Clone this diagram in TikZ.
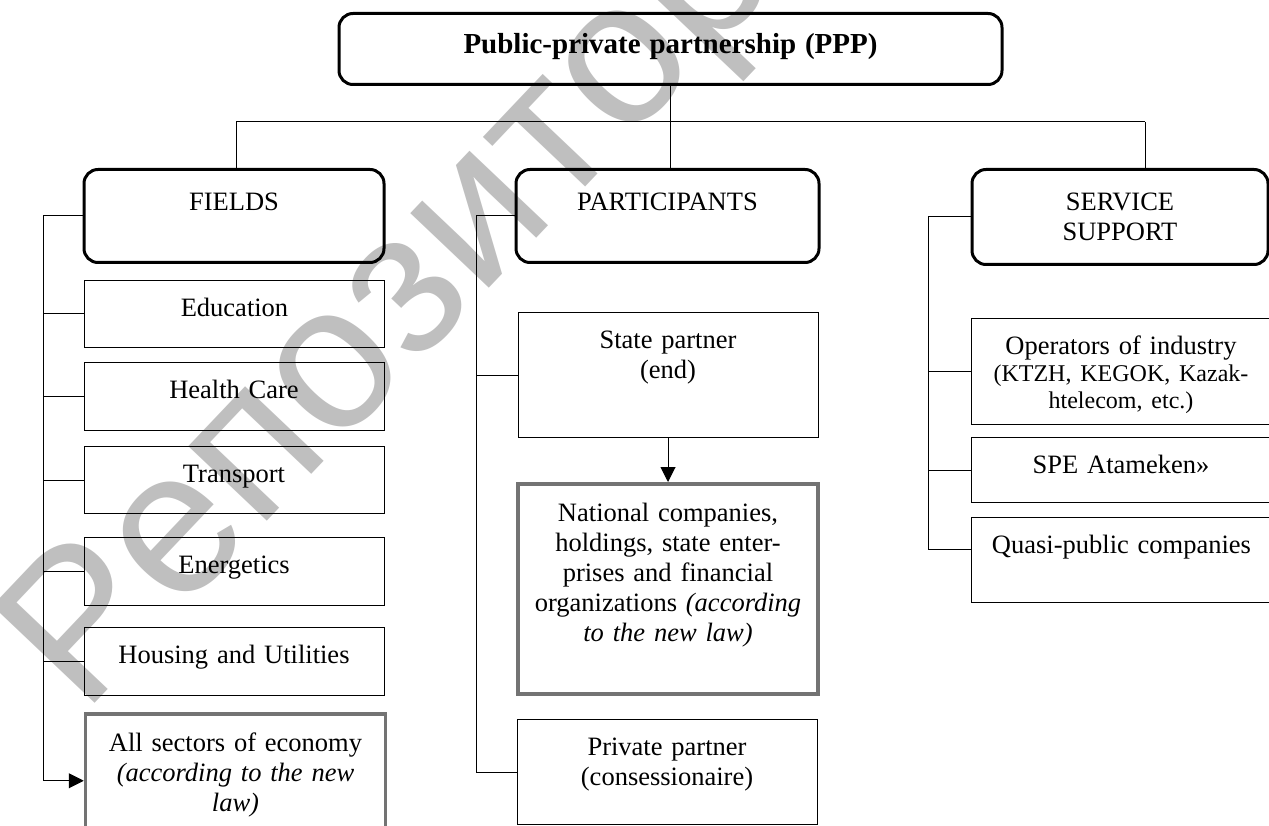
\documentclass[tikz,border=0pt]{standalone}
\usepackage{fontspec}
\setmainfont{Liberation Serif}
\newfontfamily\wmfont{Liberation Sans}
\usetikzlibrary{arrows.meta}

\tikzset{
  headbox/.style={draw, line width=3pt, rounded corners=14pt, anchor=north,
    inner sep=0pt, align=center, text height=41pt},
  itembox/.style={draw, line width=1pt, anchor=north, inner sep=0pt,
    align=center, text width=300pt, text height=36pt, text depth=#1},
  lawbox/.style={draw=black!55, line width=3.5pt, anchor=north, inner sep=0pt,
    align=center, text width=300pt, text height=38pt, text depth=#1},
  wmletter/.style={rotate=46.5, inner sep=0pt, text=black!25,
    font=\wmfont\fontsize{205}{205}\selectfont},
  arr/.style={-{Triangle[length=15pt,width=15pt]}}
}

\begin{document}
\begin{tikzpicture}[x=1pt, y=-1pt, line width=1pt, font=\fontsize{26.5}{30}\selectfont]
\useasboundingbox (0,0) rectangle (1269,826);

% watermark, letter by letter from the first "o"
\node[wmletter] (w0) at (335,372) {о};
\node[wmletter, anchor=base east] (wp) at (w0.base west) {п};
\node[wmletter, anchor=base east] (we) at (wp.base west) {е};
\node[wmletter, anchor=base east] (wr) at (we.base west) {Р};
\foreach \l [count=\i, remember=\i as \j (initially 0)] in {з,и,т,о,р,и,й}
  \node[wmletter, anchor=base west] (w\i) at (w\j.base east) {\l};

% top
\node[headbox, text width=663pt, text height=40pt, text depth=31pt] (ppp) at (670.5,12)
  {\fontsize{29}{30}\selectfont\textbf{Public-private partnership (PPP)}};
\node[headbox, text width=300pt, text depth=52pt] (fields) at (234,168) {FIELDS};
\node[headbox, text width=303pt, text depth=52pt] (part) at (667.5,168) {PARTICIPANTS};
\node[headbox, text width=296pt, text depth=54pt] (serv) at (1120,168) {SERVICE\\SUPPORT};

% fields
\node[itembox=31pt] (edu) at (234.5,280) {Education};
\node[itembox=32pt] (health) at (234,362) {Health Care};
\node[itembox=31pt] (transp) at (234,446) {Transport};
\node[itembox=32pt] (energy) at (234,537) {Energetics};
\node[itembox=32pt] (housing) at (234,627) {Housing and Utilities};
\node[lawbox=96pt] (allsec) at (235.5,712)
  {All sectors of economy\\ \textit{(according to the new\\ law)}};

% participants
\node[itembox=89pt] (state) at (668,312) {State partner\\(end)};
\node[lawbox=172pt] (natl) at (668,482)
  {National companies,\\ holdings, state enter-\\ prises and financial\\
   organizations \textit{(according\\ to the new law)}};
\node[itembox=69pt] (private) at (667,719) {Private partner\\(consessionaire)};

% service support
\node[itembox=70pt] (oper) at (1121,318)
  {Operators of industry\\ {\fontsize{24}{27}\selectfont (KTZH, KEGOK, Kazak-\\ htelecom, etc.)\par}};
\node[itembox=29pt] (spe) at (1121,437) {SPE Atameken»};
\node[itembox=49pt] (quasi) at (1121.5,517) {Quasi-public companies};

% bus
\coordinate (busL) at (236,122);
\coordinate (busR) at (1145,122);
\draw (busL) -- (busR);
\draw (busL) -- (busL |- fields.north);
\draw (busR) -- (busR |- serv.north);
\draw (ppp.south) -- (ppp.south |- part.north);

% brackets
\coordinate (fl) at (43,0);
\draw (fields.west) -- (fl |- fields.west) -- (fl |- allsec.west);
\draw[arr] (fl |- allsec.west) -- (allsec.west);
\foreach \b in {edu,health,transp,energy,housing}
  \draw (\b.west) -- (fl |- \b.west);

\coordinate (pl) at (476,0);
\draw (part.west) -- (pl |- part.west) |- (private.west);
\draw (state.west) -- (pl |- state.west);
\draw[arr] (state.south) -- (natl.north);

\coordinate (sl) at (928,0);
\draw (serv.west) -- (sl |- serv.west) |- ([yshift=11pt]quasi.west);
\foreach \b in {oper,spe}
  \draw (\b.west) -- (sl |- \b.west);
\end{tikzpicture}
\end{document}
